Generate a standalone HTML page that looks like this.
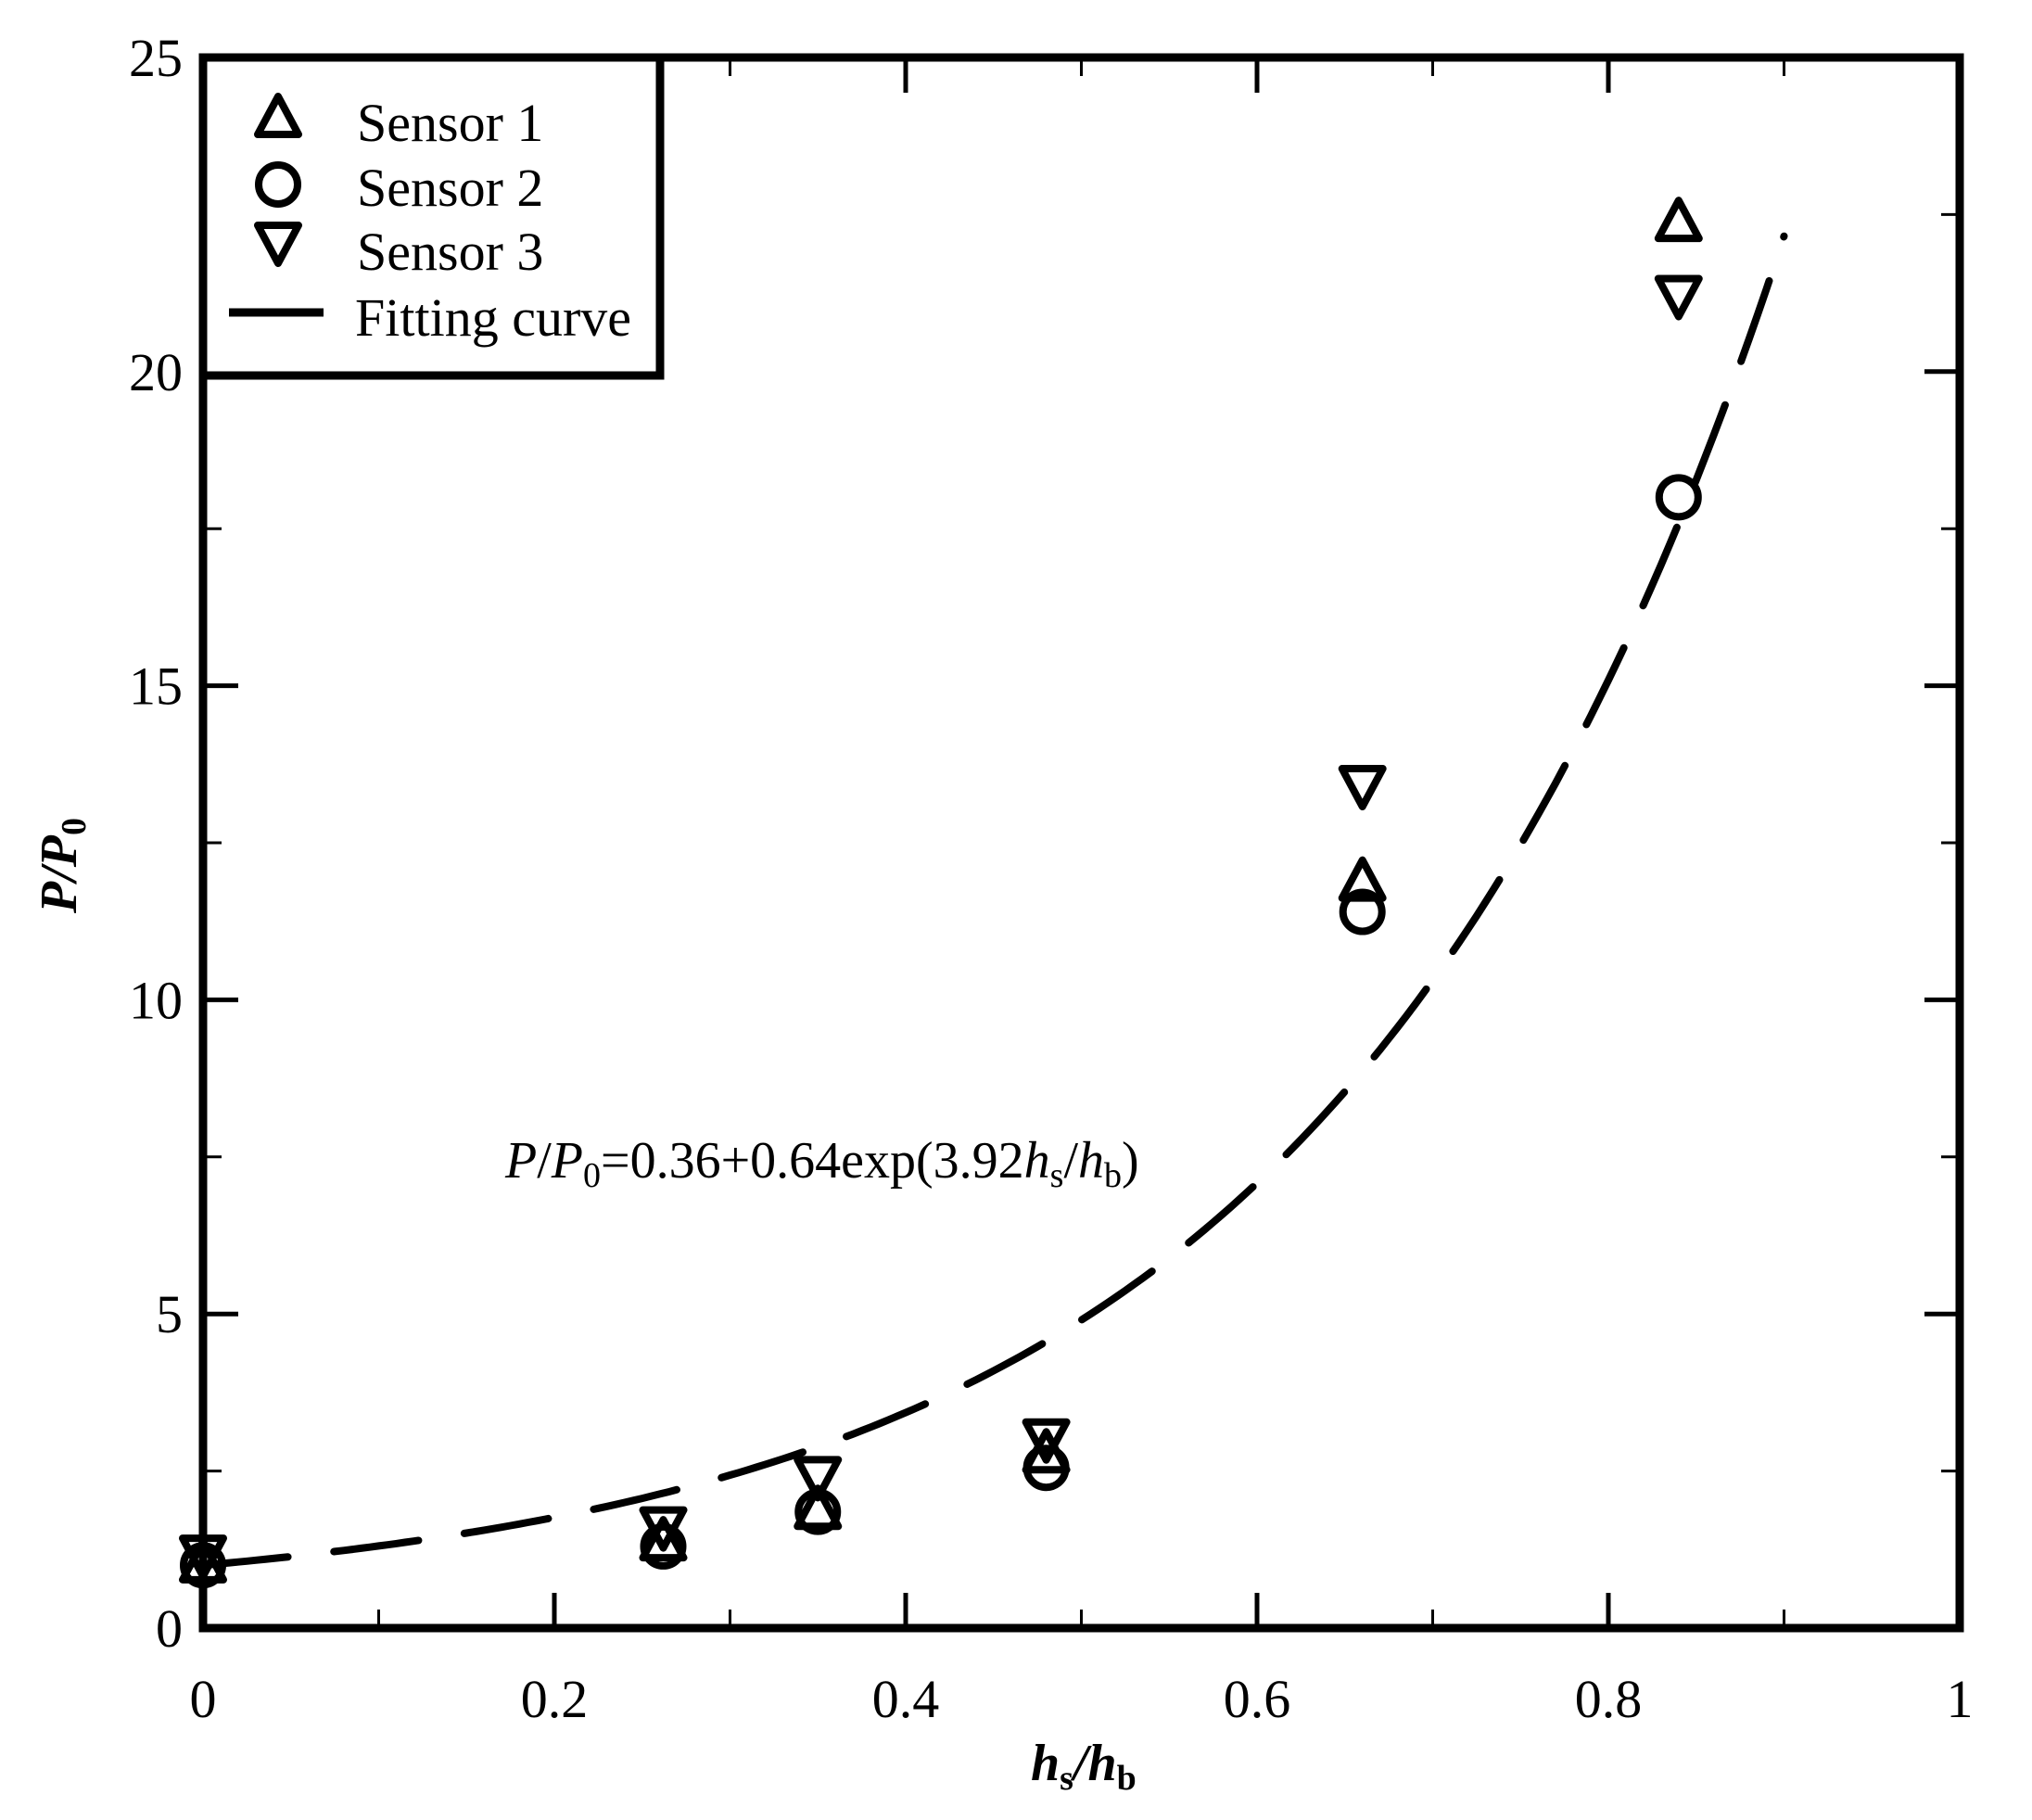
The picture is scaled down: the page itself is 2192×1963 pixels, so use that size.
<!DOCTYPE html>
<html><head><meta charset="utf-8"><style>
html,body{margin:0;padding:0;background:#fff;}
svg{display:block;}
text{font-family:"Liberation Serif",serif;fill:#000;}
</style></head><body>
<svg id="s" width="2192" height="1963" viewBox="0 0 2192 1963" xmlns="http://www.w3.org/2000/svg">
<rect x="0" y="0" width="2192" height="1963" fill="#fff"/>
<g id="ticks" stroke="#000"></g>
<path id="curve" fill="none" stroke="#000" stroke-width="8" stroke-dasharray="92 50" stroke-linecap="round"/>
<g id="marks" fill="none" stroke="#000" stroke-width="8" stroke-linejoin="round"></g>
<rect x="219" y="62" width="1895" height="1694" fill="none" stroke="#000" stroke-width="9"/>
<rect x="219" y="62" width="493" height="343" fill="#fff" stroke="#000" stroke-width="9"/>
<g id="leg" fill="none" stroke="#000" stroke-width="8" stroke-linejoin="round"></g>
<line x1="247" y1="337" x2="349" y2="337" stroke="#000" stroke-width="9"/>
<g font-size="58">
<text x="385" y="152">Sensor 1</text>
<text x="385" y="222">Sensor 2</text>
<text x="385" y="291">Sensor 3</text>
<text x="383" y="362">Fitting curve</text>
</g>
<g id="lbl" font-size="58"></g>
<text x="545" y="1270" font-size="56"><tspan font-style="italic">P</tspan>/<tspan font-style="italic">P</tspan><tspan font-size="38" dy="10">0</tspan><tspan dy="-10">=0.36+0.64exp(3.92</tspan><tspan font-style="italic">h</tspan><tspan font-size="38" dy="10">s</tspan><tspan dy="-10">/</tspan><tspan font-style="italic">h</tspan><tspan font-size="38" dy="10">b</tspan><tspan dy="-10">)</tspan></text>
<text x="1112" y="1920" font-size="56" font-weight="bold"><tspan font-style="italic">h</tspan><tspan font-size="38" dy="10">s</tspan><tspan dy="-10" font-style="italic">/h</tspan><tspan font-size="38" dy="10">b</tspan></text>
<text transform="translate(82,985) rotate(-90)" font-size="56" font-weight="bold"><tspan font-style="italic">P/P</tspan><tspan font-size="38" dy="10">0</tspan></text>
</svg>
<script>
var NS="http://www.w3.org/2000/svg";
var X0=219,X1=2114,Y0=1756,Y25=62;
function X(v){return X0+(X1-X0)*v;}
function Y(v){return Y0-(Y0-Y25)*v/25;}
function el(p,t,a,txt){var e=document.createElementNS(NS,t);for(var k in a)e.setAttribute(k,a[k]);if(txt!=null)e.textContent=txt;p.appendChild(e);return e;}
var tk=document.getElementById('ticks'),lb=document.getElementById('lbl');
for(var i=0;i<=10;i++){var x=X(i/10),L=(i%2==0)?38:20;
 el(tk,'line',{x1:x,y1:Y0,x2:x,y2:Y0-L,'stroke-width':i%2==0?5:3});
 el(tk,'line',{x1:x,y1:Y25,x2:x,y2:Y25+L,'stroke-width':i%2==0?5:3});
 if(i%2==0){var s=(i==0)?'0':(i==10?'1':(i/10).toFixed(1));el(lb,'text',{x:x,y:1852,'text-anchor':'middle'},s);}
}
for(var j=0;j<=10;j++){var v=j*2.5,y=Y(v),L=(j%2==0)?38:20;
 el(tk,'line',{x1:X0,y1:y,x2:X0+L,y2:y,'stroke-width':j%2==0?5:3});
 el(tk,'line',{x1:X1,y1:y,x2:X1-L,y2:y,'stroke-width':j%2==0?5:3});
 if(j%2==0)el(lb,'text',{x:197,y:y+20,'text-anchor':'end'},String(v));
}
var d='';for(var k=0;k<=180;k++){var hx=0.9*k/180,py=0.36+0.64*Math.exp(3.92*hx);d+=(k?'L':'M')+X(hx).toFixed(1)+' '+Y(py).toFixed(1);}
document.getElementById('curve').setAttribute('d',d);
function up(g,cx,cy){el(g,'path',{d:'M'+cx+' '+(cy-22)+'L'+(cx+22)+' '+(cy+19)+'L'+(cx-22)+' '+(cy+19)+'Z'});}
function dn(g,cx,cy){el(g,'path',{d:'M'+cx+' '+(cy+22)+'L'+(cx+22)+' '+(cy-19)+'L'+(cx-22)+' '+(cy-19)+'Z'});}
function ci(g,cx,cy){el(g,'circle',{cx:cx,cy:cy,r:21});}
var xs=[0,0.262,0.35,0.48,0.66,0.84];
var s1=[1.05,1.4,1.9,2.8,11.9,22.4],s2=[1.0,1.3,1.85,2.55,11.4,18.0],s3=[1.15,1.6,2.4,3.0,13.4,21.2];
var m=document.getElementById('marks');
for(var i=0;i<6;i++){up(m,X(xs[i]),Y(s1[i]));ci(m,X(xs[i]),Y(s2[i]));dn(m,X(xs[i]),Y(s3[i]));}
var lg=document.getElementById('leg');
up(lg,300,126);ci(lg,300,199);dn(lg,300,262);
</script>
</body></html>
